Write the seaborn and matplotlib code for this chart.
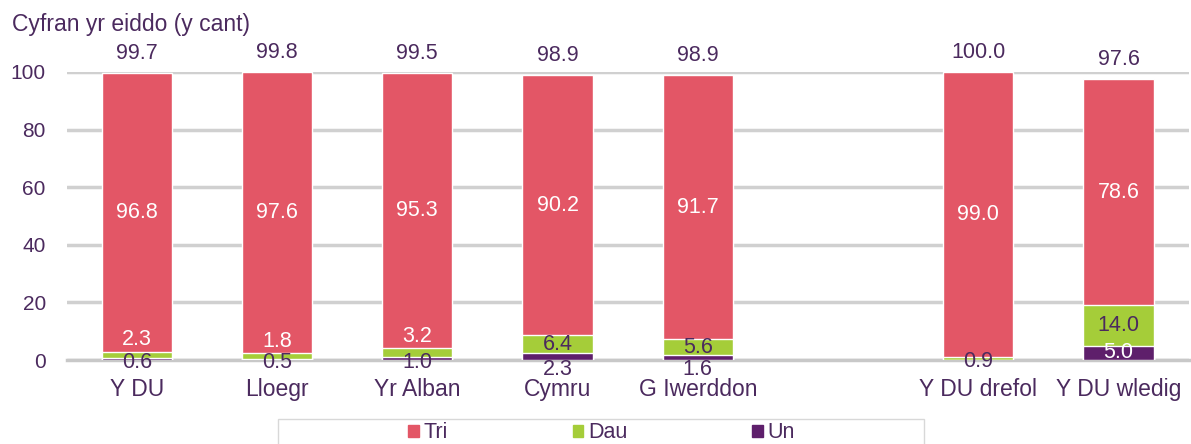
import numpy as np
import pandas as pd
import matplotlib
matplotlib.use('Agg')
import matplotlib.pyplot as plt
import seaborn as sns
from matplotlib.patches import Patch, Rectangle

sns.set_style('white')
plt.rcParams['font.family'] = ['Liberation Sans', 'DejaVu Sans']

categories = ['Y DU', 'Lloegr', 'Yr Alban', 'Cymru', 'G Iwerddon', 'Y DU drefol', 'Y DU wledig']
tri = [96.8, 97.6, 95.3, 90.2, 91.7, 99.0, 78.6]
dau = [2.3, 1.8, 3.2, 6.4, 5.6, 0.9, 14.0]
un = [0.6, 0.5, 1.0, 2.3, 1.6, 0.1, 5.0]
totals = [99.7, 99.8, 99.5, 98.9, 98.9, 100.0, 97.6]

order = categories[:5] + ['_gap'] + categories[5:]

txt = '#4B2A5E'
c_tri, c_dau, c_un = '#E35666', '#A5CD39', '#5E1F6B'

df = pd.DataFrame({'cat': categories, 'Tri': tri, 'Dau': dau, 'Un': un, 'total': totals})
df['top'] = df['Un'] + df['Dau'] + df['Tri']
df['low2'] = df['Un'] + df['Dau']

fig = plt.figure(figsize=(11.91, 4.44), dpi=100)
ax = fig.add_axes([0.056, 0.189, 0.942, 0.649])

sns.barplot(data=df, x='cat', y='top', order=order, color=c_tri, width=0.5,
            saturation=1, ax=ax, zorder=3)
sns.barplot(data=df, x='cat', y='low2', order=order, color=c_dau, width=0.5,
            saturation=1, ax=ax, zorder=3)
sns.barplot(data=df, x='cat', y='Un', order=order, color=c_un, width=0.5,
            saturation=1, ax=ax, zorder=3)

ax.set_ylim(0, 100)
ax.set_xlim(-0.5, len(order) - 0.5)
ax.set_yticks(range(0, 101, 20))
ax.yaxis.grid(True, color='#D0D0D0', linewidth=2.5, zorder=0)
ax.set_axisbelow(True)
for s in ['top', 'right', 'left']:
    ax.spines[s].set_visible(False)
ax.spines['bottom'].set_color('#C8C8C8')
ax.spines['bottom'].set_linewidth(2.5)
ax.spines['bottom'].set_zorder(2)

ax.set_xticks(range(len(order)))
ax.set_xticklabels(['' if c == '_gap' else c for c in order], fontsize=16.5, color=txt)
ax.tick_params(axis='x', length=0, pad=13)
ax.tick_params(axis='y', length=0, labelsize=15, labelcolor=txt, pad=15)
ax.set_xticks(np.arange(-0.5, len(order), 1), minor=True)
ax.tick_params(axis='x', which='minor', length=6, width=2.5, color='#C8C8C8')
ax.set_xlabel('')
ax.set_ylabel('')

fs = 15.5
for i, row in df.iterrows():
    x = order.index(row['cat'])
    # Tri label
    ax.text(x, row['low2'] + row['Tri'] / 2, f"{row['Tri']:.1f}", ha='center', va='center',
            color='white', fontsize=fs, zorder=5)
    # Dau label
    if row['Dau'] < 4:
        if row['Dau'] >= 1.5:
            ax.annotate(f"{row['Dau']:.1f}", (x, row['low2']), xytext=(0, 1),
                        textcoords='offset points', ha='center', va='bottom',
                        color='white', fontsize=fs, zorder=5)
        else:
            ax.annotate(f"{row['Dau']:.1f}", (x, 0), xytext=(0, -1),
                        textcoords='offset points', ha='center', va='center',
                        color=txt, fontsize=fs, zorder=5, annotation_clip=False)
    else:
        ax.text(x, row['Un'] + row['Dau'] / 2, f"{row['Dau']:.1f}", ha='center', va='center',
                color=txt, fontsize=fs, zorder=5)
    # Un label
    if row['Un'] >= 0.5:
        if row['Un'] >= 3:
            ax.text(x, row['Un'] / 2, f"{row['Un']:.1f}", ha='center', va='center',
                    color='white', fontsize=fs, zorder=5)
        elif row['Dau'] >= 4:
            ax.annotate(f"{row['Un']:.1f}", (x, 0), xytext=(0, 1),
                        textcoords='offset points', ha='center', va='top',
                        color=txt, fontsize=fs, zorder=5, annotation_clip=False)
        else:
            ax.annotate(f"{row['Un']:.1f}", (x, 0), xytext=(0, -1.5),
                        textcoords='offset points', ha='center', va='center',
                        color=txt, fontsize=fs, zorder=5, annotation_clip=False)
    # total above
    ax.annotate(f"{row['total']:.1f}", (x, row['top']), xytext=(0, 14),
                textcoords='offset points', ha='center', va='center',
                color=txt, fontsize=fs, annotation_clip=False)

fig.text(0.01, 0.945, 'Cyfran yr eiddo (y cant)', fontsize=16.5, color=txt, va='center')

# legend box
fig.patches.append(Rectangle((0.2334, -0.05), 0.5424, 0.1063, transform=fig.transFigure,
                             facecolor='white', edgecolor='#D8D8D8', linewidth=1))
handles = [Patch(color=c_tri, label='Tri'), Patch(color=c_dau, label='Dau'),
           Patch(color=c_un, label='Un')]
leg = fig.legend(handles=handles, loc='center', bbox_to_anchor=(0.505, 0.025),
                 ncol=3, frameon=False, fontsize=15.5, handlelength=0.5, handleheight=0.5,
                 handletextpad=0.2, columnspacing=5.8, borderpad=0, borderaxespad=0)
for t in leg.get_texts():
    t.set_color(txt)

fig.savefig('out.png', dpi=100)
